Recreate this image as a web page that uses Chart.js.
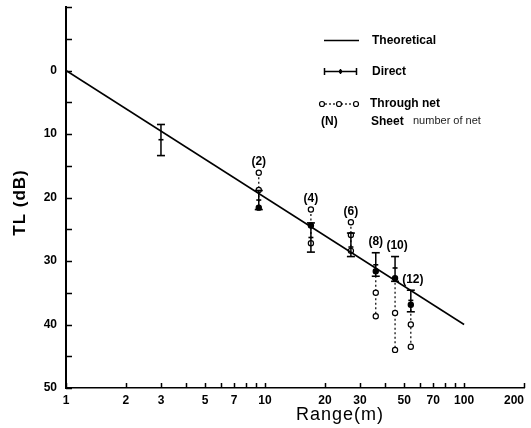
<!DOCTYPE html>
<html>
<head>
<meta charset="utf-8">
<script src="https://cdn.jsdelivr.net/npm/chart.js@4.4.1/dist/chart.umd.min.js"></script>
<style>
  html, body { margin:0; padding:0; background:#fff; }
  #wrap { width:531px; height:428px; position:relative; }
</style>
</head>
<body>
<div id="wrap"><canvas id="tl-chart"></canvas></div>
<script>
// Transmission loss vs range — theoretical spreading, direct and through-net readings
const theoryRange = [1, 100];
const theoryTL    = [0, 40];

const directRange = [3, 9.3, 17, 27, 36, 45, 54];
const directTL    = [10.9, 20.4, 26.3, 27.8, 30.6, 31.1, 36.2];
const directLo    = [8.5, 18.9, 24.0, 25.6, 28.7, 29.3, 34.6];
const directHi    = [13.4, 21.9, 28.6, 29.3, 32.4, 33.2, 38.0];

const sheets      = [2, 4, 6, 8, 10, 12];
const sheetRange  = [9.3, 17, 27, 36, 45, 54];
const netTL       = [[16.1, 18.8, 21.6], [21.9, 24.4, 27.2], [23.9, 25.9, 28.4],
                     [31.6, 35.0, 38.7], [32.7, 38.2, 44.0], [36.9, 40.0, 43.5]];
const netSolid    = [[0, 0, 1], [0, 1, 0], [0, 0, 0], [1, 0, 0], [1, 0, 0], [1, 0, 0]];

const xTickVals   = [1,2,3,4,5,6,7,8,9,10,20,30,40,50,60,70,80,90,100,200];
const xTickLabels = [1,2,3,5,7,10,20,30,50,70,100,200];
const yTickVals   = [-10,-5,0,5,10,15,20,25,30,35,40,45,50];
const yTickLabels = [0,10,20,30,40,50];

const FONT = '"Liberation Sans", Arial, sans-serif';

// build the datasets from the arrays above
const theoryData = theoryRange.map((r, i) => ({ x:r, y:theoryTL[i] }));

const directData = [];
directRange.forEach((r, i) => {
  directData.push({ x:r, y:directLo[i] }, { x:r, y:directTL[i] }, { x:r, y:directHi[i] }, { x:r, y:null });
});

const netData = [], netFill = [];
sheetRange.forEach((r, i) => {
  netTL[i].forEach((v, j) => { netData.push({ x:r, y:v }); netFill.push(netSolid[i][j] ? '#000' : '#fff'); });
  netData.push({ x:r, y:null }); netFill.push('#fff');
});

const decor = {
  id:'decor',
  afterDraw(chart){
    const { ctx, chartArea:a, scales:{ x, y } } = chart;
    ctx.save();
    ctx.strokeStyle = '#000'; ctx.fillStyle = '#000';

    // inward tick marks
    ctx.lineWidth = 1.5;
    ctx.beginPath();
    xTickVals.forEach(v => { const px = Math.round(x.getPixelForValue(v)) + 0.5; ctx.moveTo(px, a.bottom); ctx.lineTo(px, a.bottom - 5); });
    yTickVals.forEach(v => { const py = Math.round(y.getPixelForValue(v)) + 0.5; ctx.moveTo(a.left, py); ctx.lineTo(a.left + 6, py); });
    ctx.stroke();

    // tick labels
    ctx.font = 'bold 12px ' + FONT;
    ctx.textBaseline = 'top';
    xTickLabels.forEach(v => {
      const px = x.getPixelForValue(v);
      const w = ctx.measureText(String(v)).width;
      ctx.textAlign = (px + w / 2 > chart.width - 2) ? 'right' : 'center';
      ctx.fillText(String(v), px, a.bottom + 7);
    });
    ctx.textAlign = 'right'; ctx.textBaseline = 'middle';
    yTickLabels.forEach(v => ctx.fillText(String(v), a.left - 9, y.getPixelForValue(v)));

    // axis titles
    ctx.save();
    ctx.translate(20, (a.top + a.bottom) / 2 + 5);
    ctx.rotate(-Math.PI / 2);
    ctx.textAlign = 'center'; ctx.textBaseline = 'middle';
    ctx.font = 'bold 17px ' + FONT;
    ctx.letterSpacing = '1px';
    ctx.fillText('TL (dB)', 0, 0);
    ctx.restore();

    ctx.save();
    ctx.font = '18px ' + FONT;
    ctx.letterSpacing = '1px';
    ctx.textAlign = 'center'; ctx.textBaseline = 'middle';
    ctx.fillText('Range(m)', 340, 415);
    ctx.restore();

    // sheet number labels above each group
    ctx.font = 'bold 12px ' + FONT;
    ctx.textAlign = 'center'; ctx.textBaseline = 'middle';
    sheets.forEach((n, i) => {
      const k = directRange.indexOf(sheetRange[i]);
      const top = Math.min(...netTL[i], k >= 0 ? directLo[k] : Infinity);
      ctx.fillText('(' + n + ')', x.getPixelForValue(sheetRange[i]) + (n >= 10 ? 2 : 0), y.getPixelForValue(top) - 11);
    });

    // legend
    ctx.lineWidth = 1.5;
    ctx.beginPath(); ctx.moveTo(324, 40.5); ctx.lineTo(359, 40.5); ctx.stroke();

    ctx.beginPath();
    ctx.moveTo(324, 71.5); ctx.lineTo(357, 71.5);
    ctx.moveTo(324.5, 68); ctx.lineTo(324.5, 75);
    ctx.moveTo(356.5, 68); ctx.lineTo(356.5, 75);
    ctx.moveTo(340.5, 69); ctx.lineTo(340.5, 74);
    ctx.stroke();
    ctx.beginPath(); ctx.arc(340.5, 71.5, 1.8, 0, Math.PI * 2); ctx.fill();

    ctx.lineWidth = 1.2;
    ctx.setLineDash([2, 2]);
    ctx.beginPath(); ctx.moveTo(325, 104); ctx.lineTo(353, 104); ctx.stroke();
    ctx.setLineDash([]);
    [322, 339, 356].forEach(cx => {
      ctx.beginPath(); ctx.arc(cx, 104, 2.5, 0, Math.PI * 2);
      ctx.fillStyle = '#fff'; ctx.fill(); ctx.stroke();
    });
    ctx.fillStyle = '#000';

    ctx.textAlign = 'left'; ctx.textBaseline = 'middle';
    ctx.font = 'bold 12px ' + FONT;
    ctx.fillText('Theoretical', 372, 41);
    ctx.fillText('Direct', 372, 72);
    ctx.fillText('Through net', 370, 104);
    ctx.fillText('(N)', 321, 122);
    ctx.fillText('Sheet', 371, 122);
    ctx.font = '11px ' + FONT;
    ctx.fillStyle = '#222';
    ctx.fillText('number of net', 413, 121);
    ctx.restore();
  }
};

new Chart(document.getElementById('tl-chart'), {
  type:'line',
  data:{
    datasets:[
      { label:'Theoretical', data:theoryData, borderColor:'#000', borderWidth:1.5, pointRadius:0, fill:false },
      { label:'Direct', data:directData, borderColor:'#000', borderWidth:1.5, spanGaps:false,
        pointStyle:'line', pointBorderColor:'#000', pointBorderWidth:1.6,
        pointRadius: c => (c.dataIndex % 4 === 1 ? 2.5 : 4) },
      { label:'Through net', data:netData, borderColor:'#000', borderWidth:1.2, borderDash:[2, 2.5], spanGaps:false,
        pointStyle:'circle', pointRadius:2.6, pointBorderWidth:1.2, pointBorderColor:'#000',
        pointBackgroundColor: c => netFill[c.dataIndex] }
    ]
  },
  options:{
    responsive:true, maintainAspectRatio:false, animation:false, devicePixelRatio:1,
    parsing:true,
    layout:{ padding:{ top:7, right:7, left:0, bottom:0 } },
    plugins:{ legend:{ display:false }, tooltip:{ enabled:false } },
    scales:{
      x:{ type:'logarithmic', min:1, max:200, position:'bottom',
          grid:{ display:false, drawTicks:false },
          border:{ display:true, color:'#000', width:1.5 },
          ticks:{ display:false },
          afterFit: s => { s.height = 40; s.paddingLeft = 0; s.paddingRight = 0; } },
      y:{ type:'linear', reverse:true, min:-10, max:50,
          grid:{ display:false, drawTicks:false },
          border:{ display:true, color:'#000', width:2 },
          ticks:{ display:false, stepSize:5 },
          afterFit: s => { s.width = 66; s.paddingTop = 0; s.paddingBottom = 0; } }
    }
  },
  plugins:[decor]
});
</script>
</body>
</html>
